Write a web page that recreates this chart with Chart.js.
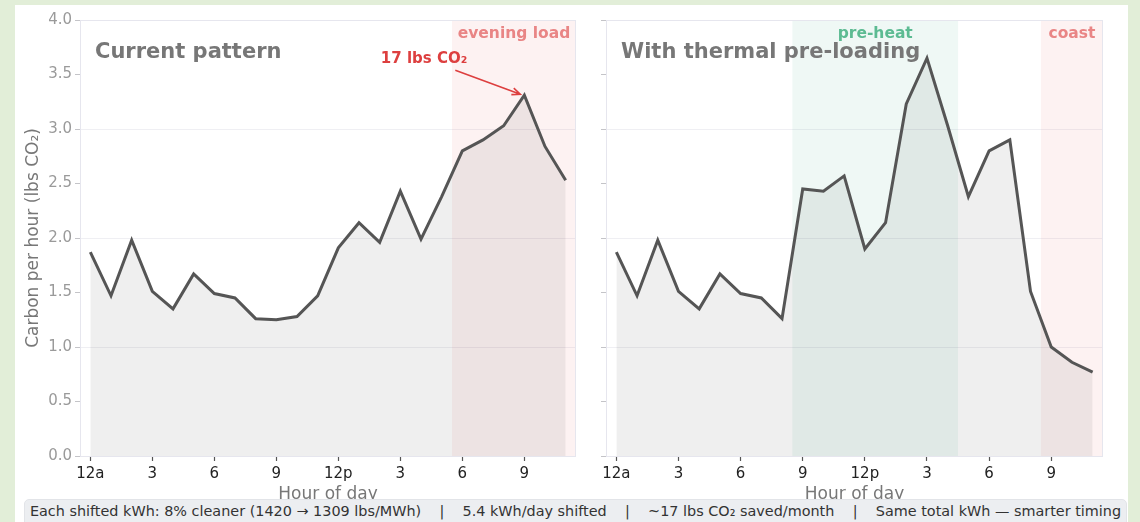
<!DOCTYPE html>
<html>
<head>
<meta charset="utf-8">
<script src="https://cdn.jsdelivr.net/npm/chart.js@4.4.1/dist/chart.umd.min.js"></script>
<style>
  body {
    margin: 0;
    width: 1140px;
    height: 522px;
    overflow: hidden;
    position: relative;
    background: #e2eed8;
    font-family: 'DejaVu Sans', sans-serif;
  }
  #card {
    position: absolute;
    left: 15px;
    top: 5px;
    width: 1113px;
    height: 540px;
    background: #ffffff;
  }
  canvas { position: absolute; top: 5px; }
  #leftChart { left: 15px; }
  #rightChart { left: 590px; }
  #footer {
    position: absolute;
    left: 24px;
    top: 499px;
    width: 1101px;
    height: 30px;
    background: #eceef1;
    border: 1px solid #e2e4e8;
    border-radius: 5px;
    font-size: 14.4px;
    line-height: 23px;
    color: #333;
    text-align: center;
    white-space: pre;
  }
</style>
</head>
<body>
<div id="card"></div>
<canvas id="leftChart" width="575" height="500"></canvas>
<canvas id="rightChart" width="538" height="500"></canvas>
<div id="footer"></div>

<script>
// ---- data ----
const hours = [0, 1, 2, 3, 4, 5, 6, 7, 8, 9, 10, 11, 12, 13, 14, 15, 16, 17, 18, 19, 20, 21, 22, 23];
const currentCarbon = [1.87, 1.47, 1.98, 1.51, 1.35, 1.67, 1.49, 1.45, 1.26, 1.25, 1.28, 1.47,
                       1.91, 2.14, 1.96, 2.43, 1.99, 2.38, 2.80, 2.90, 3.03, 3.31, 2.84, 2.53];
const shiftedCarbon = [1.87, 1.47, 1.98, 1.51, 1.35, 1.67, 1.49, 1.45, 1.26, 2.45, 2.43, 2.57,
                       1.90, 2.14, 3.23, 3.65, 3.03, 2.38, 2.80, 2.90, 1.51, 1.00, 0.86, 0.77];
const hourTicks = [0, 3, 6, 9, 12, 15, 18, 21];
const hourTickLabels = ['12a', '3', '6', '9', '12p', '3', '6', '9'];
const carbonTicks = [0, 0.5, 1, 1.5, 2, 2.5, 3, 3.5, 4];

const currentBands = [{ from: 17.5, to: 23.5, label: 'evening load', kind: 'peak' }];
const shiftedBands = [
  { from: 8.5, to: 16.5, label: 'pre-heat', kind: 'heat' },
  { from: 20.5, to: 23.5, label: 'coast', kind: 'peak' }
];
const peakHour = 21;
const peakLabel = '17 lbs CO₂';
const footerParts = [
  'Each shifted kWh: 8% cleaner (1420 → 1309 lbs/MWh)',
  '5.4 kWh/day shifted',
  '~17 lbs CO₂ saved/month',
  'Same total kWh — smarter timing'
];

// ---- styles ----
const FONT = "'DejaVu Sans', sans-serif";
const bandStyles = {
  peak: { fill: 'rgba(230, 110, 110, 0.085)', text: '#e98585' },
  heat: { fill: 'rgba(80, 175, 140, 0.09)', text: '#5cbb92' }
};

document.getElementById('footer').textContent = footerParts.join('    |    ');

/**
 * Shaded hour ranges with their labels, plus the plot frame
 */
const bandPlugin = {
  id: 'bands',
  beforeDatasetsDraw(chart, args, opts) {
    const { ctx, chartArea: a, scales: { x } } = chart;
    ctx.save();
    (opts.items || []).forEach(b => {
      const x0 = x.getPixelForValue(b.from);
      const x1 = x.getPixelForValue(b.to);
      ctx.fillStyle = bandStyles[b.kind].fill;
      ctx.fillRect(x0, a.top, x1 - x0, a.bottom - a.top);
      ctx.fillStyle = bandStyles[b.kind].text;
      ctx.font = 'bold 15.5px ' + FONT;
      ctx.textAlign = 'center';
      ctx.textBaseline = 'middle';
      ctx.fillText(b.label, (x0 + x1) / 2, a.top + 14);
    });
    // frame
    ctx.strokeStyle = '#e6e6ee';
    ctx.lineWidth = 1;
    ctx.strokeRect(a.left + 0.5, a.top + 0.5, a.right - a.left - 1, a.bottom - a.top);
    ctx.restore();
  },
  afterDatasetsDraw(chart, args, opts) {
    const { ctx, chartArea: a } = chart;
    ctx.save();
    ctx.fillStyle = '#777';
    ctx.font = 'bold 21px ' + FONT;
    ctx.textAlign = 'left';
    ctx.textBaseline = 'middle';
    ctx.fillText(opts.title, a.left + 15, a.top + 33);
    ctx.restore();
  }
};

/**
 * Arrow annotation pointing at the evening peak
 */
const peakPlugin = {
  id: 'peakNote',
  afterDatasetsDraw(chart, args, opts) {
    if (!opts.show) return;
    const { ctx, scales: { x, y } } = chart;
    const tipX = x.getPixelForValue(peakHour) - 4;
    const tipY = y.getPixelForValue(currentCarbon[hours.indexOf(peakHour)]) - 1;
    const tx = x.getPixelForValue(16.15);
    const ty = y.getPixelForValue(3.64);
    const sx = x.getPixelForValue(17.66);
    const sy = y.getPixelForValue(3.54);
    ctx.save();
    ctx.fillStyle = '#dd3f3f';
    ctx.strokeStyle = '#dd3f3f';
    ctx.font = 'bold 15px ' + FONT;
    ctx.textAlign = 'center';
    ctx.textBaseline = 'middle';
    ctx.fillText(peakLabel, tx, ty);
    ctx.lineWidth = 1.6;
    ctx.beginPath();
    ctx.moveTo(sx, sy);
    ctx.lineTo(tipX, tipY);
    const ang = Math.atan2(tipY - sy, tipX - sx);
    const len = 9;
    ctx.moveTo(tipX - len * Math.cos(ang - 0.4), tipY - len * Math.sin(ang - 0.4));
    ctx.lineTo(tipX, tipY);
    ctx.lineTo(tipX - len * Math.cos(ang + 0.4), tipY - len * Math.sin(ang + 0.4));
    ctx.stroke();
    ctx.restore();
  }
};

function makeChart(id, values, bands, title, yWidth, padRight, showYLabels, showPeak) {
  const ctx = document.getElementById(id).getContext('2d');
  return new Chart(ctx, {
    type: 'line',
    data: {
      datasets: [{
        data: hours.map((h, i) => ({ x: h, y: values[i] })),
        borderColor: '#555555',
        borderWidth: 3,
        backgroundColor: 'rgba(0, 0, 0, 0.062)',
        fill: 'origin',
        pointRadius: 0,
        tension: 0,
        borderJoinStyle: 'miter'
      }]
    },
    options: {
      responsive: false,
      devicePixelRatio: 1,
      animation: false,
      layout: { padding: { left: 0, right: padRight, top: 15, bottom: 0 } },
      plugins: {
        legend: { display: false },
        tooltip: { enabled: false },
        bands: { items: bands, title: title },
        peakNote: { show: showPeak }
      },
      scales: {
        x: {
          type: 'linear',
          min: -0.5,
          max: 23.5,
          afterBuildTicks: (scale) => { scale.ticks = hourTicks.map(v => ({ value: v })); },
          afterFit: (scale) => { scale.height = 49; },
          border: { display: false },
          grid: { drawOnChartArea: false, tickLength: 5, tickColor: '#555', tickWidth: 1.2 },
          ticks: {
            autoSkip: false,
            maxRotation: 0,
            padding: 4,
            color: '#222',
            font: { family: FONT, size: 15 },
            callback: (v) => hourTickLabels[hourTicks.indexOf(v)]
          },
          title: {
            display: true,
            text: 'Hour of day',
            color: '#777',
            font: { family: FONT, size: 17 },
            padding: { top: 0, bottom: 0 }
          }
        },
        y: {
          min: 0,
          max: 4,
          afterBuildTicks: (scale) => { scale.ticks = carbonTicks.map(v => ({ value: v })); },
          afterFit: (scale) => { scale.width = yWidth; },
          border: { display: false },
          grid: {
            color: (c) => (c.tick && Number.isInteger(c.tick.value) && c.tick.value > 0 && c.tick.value < 4)
              ? '#efeff3' : 'rgba(0,0,0,0)',
            lineWidth: 1,
            tickLength: 5,
            tickColor: '#c4c4c8'
          },
          ticks: {
            padding: 3,
            color: '#9a9a9a',
            font: { family: FONT, size: 15 },
            callback: (v) => showYLabels ? v.toFixed(1) : ''
          },
          title: {
            display: showYLabels,
            text: 'Carbon per hour (lbs CO₂)',
            color: '#777',
            font: { family: FONT, size: 17 },
            padding: { top: 8, bottom: 0 }
          }
        }
      }
    },
    plugins: [bandPlugin, peakPlugin]
  });
}

makeChart('leftChart', currentCarbon, currentBands, 'Current pattern', 65, 14, true, true);
makeChart('rightChart', shiftedCarbon, shiftedBands, 'With thermal pre-loading', 16, 25, false, false);
</script>
</body>
</html>
